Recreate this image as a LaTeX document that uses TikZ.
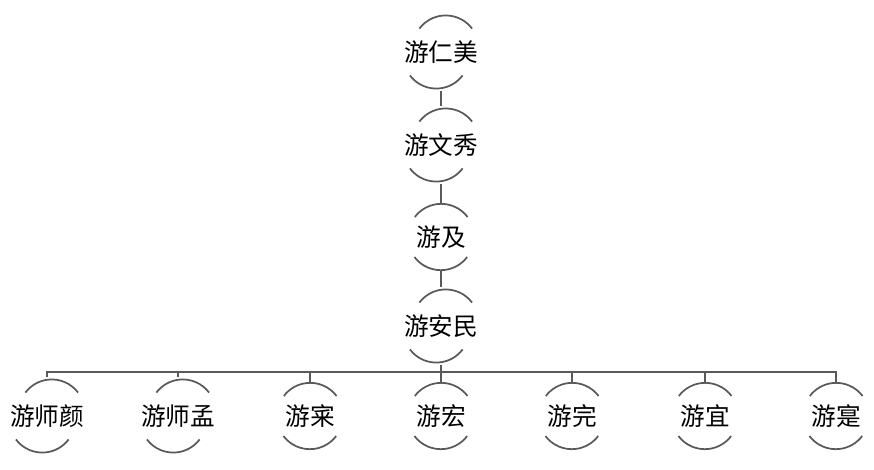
\documentclass[tikz,border=0pt]{standalone}
\usepackage{fontspec}
\newfontfamily\cjk{Noto Sans CJK SC}
\usetikzlibrary{positioning}

\tikzset{
  tie/.style={draw=black!65, line width=1.3pt},
  person/.style={circle, minimum size=49.5pt, inner sep=0pt,
    font=\cjk\fontsize{18.5}{18.5}\selectfont}
}

\begin{document}
\begin{tikzpicture}[x=0.75pt, y=-0.75pt]
\useasboundingbox (0,0) rectangle (874,469);

%% --- line of descent ---
\node[person] (renmei)  at (441,52)  {游仁美};
\node[person] (wenxiu)  at (441,145) {游文秀};
\node[person] (ji)      at (441,237) {游及};
\node[person] (anmin)   at (441,326) {游安民};

%% --- sons of anmin ---
\node[person] (shiyan)  at (47,416)  {游师颜};
\node[person] (shimeng) at (178,416) {游师孟};
\node[person] (shen)    at (310,416) {游宷};
\node[person] (hong)    at (441,416) {游宏};
\node[person] (wan)     at (572,416) {游完};
\node[person] (yi)      at (705,416) {游宜};
\node[person] (shi)     at (836,416) {游寔};

%% --- arcs above and below each name ---
\foreach \p in {renmei,wenxiu,ji,anmin,shiyan,shimeng,shen,hong,wan,yi,shi} {
  \draw[tie] (\p.37) arc (37:143:24.75pt);
  \draw[tie] (\p.217) arc (217:323:24.75pt);
}

%% --- connectors ---
\draw[tie] (renmei.south) -- (wenxiu.north);
\draw[tie] (wenxiu.south) -- (ji.north);
\draw[tie] (ji.south) -- (anmin.north);

\coordinate (bar) at (441,372);
\draw[tie] (anmin.south) -- (bar);
\foreach \c in {shiyan,shimeng,shen,hong,wan,yi,shi}
  \draw[tie] (\c.north) |- (bar);

\end{tikzpicture}
\end{document}
